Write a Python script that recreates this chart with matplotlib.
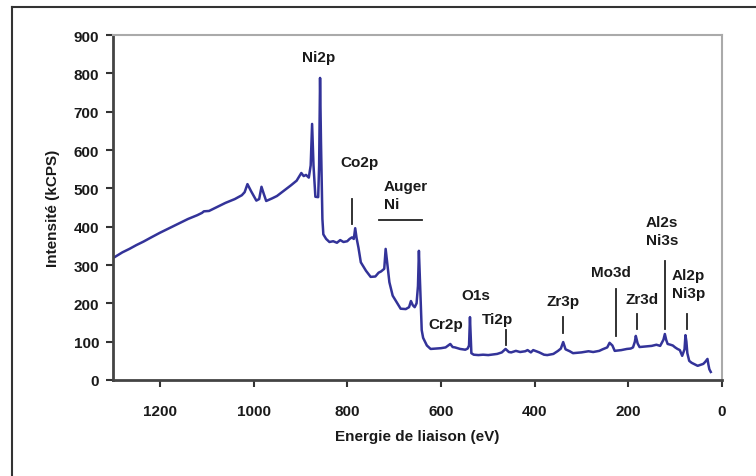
import matplotlib
matplotlib.use('Agg')
import matplotlib.pyplot as plt
from matplotlib.lines import Line2D

# XPS survey spectrum (binding energy in eV, intensity in kCPS), rows kept aligned
energy = [1296, 1280, 1265, 1250, 1235, 1220, 1200, 1180, 1160, 1140, 1120, 1110, 1106,
          1095, 1080, 1060, 1040, 1025, 1019, 1013, 1005, 994, 988, 983, 978, 973,
          960, 950, 935, 920, 908, 898, 893, 888, 882, 878, 875, 872, 868, 862, 860,
          858, 856, 853, 851, 845, 838, 830, 822, 815, 808, 800, 795, 790, 786, 783,
          780, 776, 771, 760, 750, 740, 733, 728, 721, 718, 714, 710, 703, 692, 686,
          675, 668, 664, 660, 656, 652, 649, 647, 644, 641, 638, 630, 622, 610, 600,
          590, 580, 575, 570, 559, 548, 543, 540, 538, 535, 530, 520, 510, 499, 480,
          470, 462, 455, 450, 440, 431, 420, 415, 408, 403, 390, 380, 373, 360, 350,
          344, 339, 334, 325, 318, 300, 285, 275, 262, 255, 245, 240, 234, 229, 215,
          203, 195, 190, 186, 184, 180, 176, 160, 150, 140, 132, 128, 125, 122, 119,
          116, 110, 105, 100, 95, 90, 85, 80, 78, 76, 74, 70,
          65, 60, 52, 45, 40, 36, 33, 31, 29, 27, 24]
intensity = [321, 333, 342, 352, 361, 371, 384, 396, 408, 420, 430, 436, 440,
             441, 450, 462, 472, 482, 490, 511, 492, 468, 472, 504, 485, 467,
             474, 480, 494, 508, 520, 540, 532, 535, 528, 560, 668, 560, 478, 477, 560,
             788, 620, 420, 380, 368, 360, 362, 358, 365, 360, 362, 368, 372, 368, 396,
             370, 345, 307, 285, 269, 270, 280, 283, 290, 342, 298, 255, 220, 198, 186,
             185, 190, 206, 195, 190, 200, 245, 337, 230, 130, 110, 90, 81, 82, 83,
             85, 94, 86, 85, 81, 79, 82, 90, 164, 70, 66, 65, 66, 65, 68,
             72, 81, 73, 72, 76, 73, 75, 78, 72, 78, 72, 66, 65, 68, 76,
             82, 99, 80, 75, 70, 72, 75, 73, 76, 80, 85, 97, 90, 76, 78,
             81, 82, 85, 100, 115, 95, 86, 88, 89, 92, 89, 98, 105, 120, 104,
             94, 92, 90, 85, 81, 78, 63, 80, 117, 100, 70, 50,
             45, 42, 37, 40, 42, 47, 52, 55, 40, 28, 21]

# peak labels: (text, x, y, ha)
labels = [("Ni2p", 860, 842, 'center'), ("Co2p", 774, 569, 'center'),
          ("Auger\nNi", 722, 483, 'left'), ("O1s", 526, 222, 'center'),
          ("Cr2p", 626, 146, 'left'), ("Ti2p", 479, 159, 'center'),
          ("Zr3p", 339, 206, 'center'), ("Mo3d", 237, 282, 'center'),
          ("Zr3d", 171, 211, 'center'), ("Al2s\nNi3s", 163, 389, 'left'),
          ("Al2p\nNi3p", 72, 250, 'center')]

# vertical marker lines: (x, y_low, y_high)
markers = [(790, 407, 473), (462, 91, 130), (339, 123, 164), (227, 115, 237),
           (182, 133, 172), (122, 133, 311), (74, 133, 172)]
auger_bar = (732, 641, 418)

plt.rcParams['font.family'] = ['Liberation Sans', 'DejaVu Sans']
plt.rcParams['font.weight'] = 'bold'
plt.rcParams['axes.labelweight'] = 'bold'
txt = '#1a1a1a'
fs = 11

fig = plt.figure(figsize=(7.56, 4.77), dpi=100)
ax = fig.add_axes([113 / 756, 1 - 381 / 477, (722 - 113) / 756, (381 - 36) / 477])

ax.plot(energy, intensity, color='#333399', lw=1.8)
ax.set_xlim(1300, 0)
ax.set_ylim(0, 900)
ax.set_xticks([1200, 1000, 800, 600, 400, 200, 0])
ax.set_yticks(range(0, 901, 100))
ax.tick_params(labelsize=fs, colors='#333333', labelcolor=txt, length=5, width=1.5, pad=5)
ax.tick_params(axis='x', pad=12)

for s in ['left', 'bottom']:
    ax.spines[s].set_color('#444444')
    ax.spines[s].set_linewidth(2)
for s in ['top', 'right']:
    ax.spines[s].set_color('#aaaaaa')
    ax.spines[s].set_linewidth(1.5)

ax.set_xlabel("Energie de liaison (eV)", fontsize=fs, color=txt, labelpad=8)
ax.set_ylabel("Intensité (kCPS)", fontsize=fs, color=txt, labelpad=10)

for t, x, y, ha in labels:
    ax.text(x, y, t, ha=ha, va='center', fontsize=fs, color=txt, linespacing=1.4)
for x, y0, y1 in markers:
    ax.plot([x, x], [y0, y1], color='#222222', lw=1.3)
ax.plot([auger_bar[0], auger_bar[1]], [auger_bar[2], auger_bar[2]], color='#222222', lw=1.3)

# partial outer frame
fig.add_artist(Line2D([12 / 756, 12 / 756], [0, 1 - 8 / 477], transform=fig.transFigure,
                      color='#333333', lw=1.5))
fig.add_artist(Line2D([12 / 756, 1], [1 - 8 / 477, 1 - 8 / 477], transform=fig.transFigure,
                      color='#333333', lw=1.5))

fig.savefig('out.png', dpi=100)
